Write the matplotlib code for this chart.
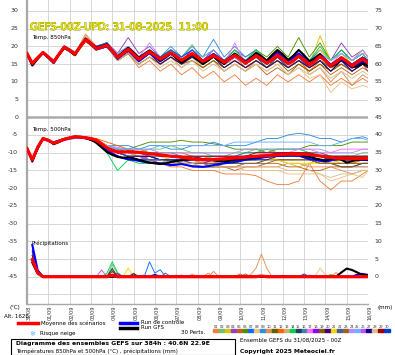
import numpy as np
import matplotlib
matplotlib.use('Agg')
import matplotlib.pyplot as plt
from matplotlib import patheffects
from matplotlib.patches import Rectangle
from matplotlib.lines import Line2D

W, H = 395, 355

# --- data -------------------------------------------------------------
dates = ['31/08', '01/09', '02/09', '03/09', '04/09', '05/09', '06/09', '07/09', '08/09',
         '09/09', '10/09', '11/09', '12/09', '13/09', '14/09', '15/09', '16/09']

hours6 = np.arange(0, 385, 6)                       # 6-hourly runs
member_hours = np.r_[0, np.arange(6, 384, 12), 384]  # members read at 06z / 18z
precip_hours = list(range(6, 385, 6))
PRECIP_BASE = -45

t850_mean = [18.0, 15.2, 16.8, 18.3, 17.0, 15.6, 17.8, 19.8, 19.0, 17.8, 20.0, 21.9,
             20.8, 19.4, 19.8, 20.3, 18.8, 16.9, 18.0, 19.2, 17.8, 16.4, 17.5, 18.5,
             17.5, 16.4, 17.3, 18.2, 17.2, 16.1, 17.0, 18.0, 17.0, 15.8, 16.6, 17.4,
             16.6, 15.5, 16.5, 17.5, 16.6, 15.3, 16.3, 17.4, 16.5, 15.3, 16.3, 17.6,
             16.5, 15.1, 16.0, 17.3, 16.2, 14.8, 15.8, 17.2, 16.0, 14.6, 15.5, 16.8,
             15.8, 14.5, 15.6, 16.5, 15.3]
t850_ctrl = [18.0, 14.8, 16.6, 18.4, 16.8, 15.3, 17.8, 20.0, 19.0, 17.6, 20.2, 22.0,
             20.6, 19.2, 19.6, 20.0, 18.5, 16.5, 17.8, 19.0, 17.3, 15.8, 17.0, 18.2,
             17.0, 15.8, 16.8, 18.0, 16.8, 15.6, 16.6, 17.8, 16.5, 15.3, 16.2, 17.3,
             16.4, 15.4, 16.5, 17.8, 16.8, 15.6, 16.7, 18.0, 17.0, 15.8, 17.0, 18.4,
             17.3, 15.9, 16.8, 18.0, 16.6, 15.0, 16.0, 17.4, 16.2, 14.8, 15.4, 16.2,
             15.2, 14.0, 14.6, 15.6, 14.8]
t850_gfs = [18.0, 14.6, 16.5, 18.2, 16.9, 15.4, 17.6, 19.6, 18.8, 17.5, 20.1, 22.2,
            21.0, 19.6, 20.0, 20.6, 19.0, 17.2, 18.4, 19.6, 18.3, 16.8, 17.8, 18.8,
            17.6, 16.0, 17.0, 18.0, 16.7, 15.4, 16.5, 17.6, 16.3, 15.0, 16.0, 17.2,
            16.1, 15.0, 16.6, 18.0, 16.8, 15.5, 16.8, 18.2, 17.2, 16.0, 17.6, 19.0,
            17.8, 16.2, 17.4, 19.0, 17.5, 15.8, 16.6, 17.8, 16.0, 14.4, 15.0, 16.5,
            15.4, 14.2, 14.3, 15.2, 14.6]

t500_mean = [-8.8, -12.0, -8.5, -6.0, -6.5, -7.3, -6.8, -6.2, -5.8, -5.5, -5.6, -5.8,
             -6.0, -6.5, -7.5, -8.6, -9.4, -9.8, -9.8, -9.7, -9.8, -9.9, -10.1, -10.3,
             -10.4, -10.6, -10.8, -11.0, -11.1, -11.3, -11.5, -11.7, -11.9, -12.0, -12.0, -11.9,
             -11.8, -11.7, -11.6, -11.5, -11.4, -11.3, -11.1, -11.0, -10.9, -10.8, -10.7, -10.6,
             -10.5, -10.4, -10.4, -10.5, -10.4, -10.5, -10.7, -10.9, -11.1, -11.3, -11.5, -11.6,
             -11.6, -11.7, -11.6, -11.6, -11.6]
t500_ctrl = [-8.8, -12.2, -8.4, -6.1, -6.6, -7.4, -6.9, -6.3, -5.9, -5.6, -5.5, -5.7,
             -6.2, -7.0, -8.2, -9.5, -10.4, -11.0, -11.5, -11.8, -12.0, -12.3, -12.6, -12.8,
             -12.9, -13.0, -13.2, -13.5, -13.4, -13.2, -13.5, -13.8, -13.9, -14.0, -13.8, -13.5,
             -13.2, -13.0, -12.8, -12.6, -12.3, -12.0, -11.8, -11.6, -11.4, -11.2, -11.0, -10.9,
             -10.8, -10.6, -10.5, -10.8, -11.3, -11.8, -12.0, -12.3, -12.5, -12.2, -11.8, -11.5,
             -11.4, -11.6, -11.9, -12.0, -12.1]
t500_gfs = [-8.8, -12.5, -8.6, -6.0, -6.4, -7.6, -7.0, -6.2, -5.8, -5.4, -5.6, -5.9,
            -6.3, -7.2, -8.5, -9.8, -10.6, -11.2, -11.4, -11.3, -11.6, -12.0, -12.4, -12.8,
            -13.0, -13.2, -13.0, -12.6, -12.3, -12.2, -12.0, -11.8, -11.6, -11.8, -12.0, -12.2,
            -12.4, -12.5, -12.3, -12.0, -11.8, -11.6, -11.5, -11.3, -11.0, -10.8, -10.6, -10.5,
            -10.4, -10.3, -10.4, -10.6, -10.9, -11.2, -11.6, -11.9, -12.2, -11.8, -11.3, -12.0,
            -12.8, -12.4, -12.0, -11.8, -11.9]

t850_members = [
    [18, 15, 18, 16, 20, 18, 23, 20, 20, 16, 18, 14, 16, 13, 15, 12, 14, 11, 13, 10, 12, 9, 11, 9, 12, 10, 12, 10, 12, 9, 11, 9, 11, 10],
    [18, 15, 18.5, 16, 20, 18, 22, 20, 21, 18, 20, 17, 19, 17, 19, 17, 20.5, 16, 18, 16, 18, 16, 18, 16, 19, 16, 18, 15, 18, 15, 17, 15, 17, 16],
    [18, 15.5, 18, 15.5, 19.5, 17.5, 21.5, 19, 20, 17, 19.5, 17, 19, 16, 18, 16, 19, 16, 18, 15, 17, 15, 18, 16, 19, 15, 18, 15, 23, 16, 18, 15, 17, 15],
    [18, 15, 18.5, 15.5, 20, 18, 22.5, 20, 21, 18, 22.5, 18, 20, 17, 19, 16, 18, 16, 18, 16, 19, 17, 19, 16, 18, 16, 19, 16, 19, 16, 21, 17, 19, 17],
    [18, 15, 18, 15.5, 19.5, 17.5, 22, 19, 20, 17, 19, 16, 18, 15, 17, 15, 17, 14, 16, 13, 15, 13, 15, 12, 14, 12, 15, 13, 15, 12, 14, 12, 14, 13],
    [18, 15.5, 18.5, 16, 20, 18, 22, 20, 21, 17, 19, 17, 19, 17, 19, 17, 19, 17, 19, 16, 19, 16, 19, 17, 20, 17, 22.5, 17, 21, 16, 19, 16, 18, 16],
    [18, 15, 18, 15.5, 20, 18, 22, 19.5, 20.5, 17, 19.5, 17, 19, 16, 19, 16, 18, 16, 18, 15, 17, 15, 18, 15, 17, 15, 17, 14, 17, 14, 16, 14, 16, 15],
    [18, 15, 18, 15.5, 20, 18, 23, 20, 21, 17, 19, 16, 18, 15, 17, 15, 17, 14, 16, 14, 16, 14, 15, 13, 15, 12, 14, 11, 12, 7, 10, 8, 9, 8.5],
    [18, 15, 18.5, 16, 20, 18.5, 22, 20, 21, 18, 20, 17, 19, 17, 20, 17, 20, 17, 22, 17, 20, 17, 19, 16, 19, 16, 19, 16, 19, 16, 19, 16, 18, 16],
    [18, 15, 18, 15.5, 20, 18, 23.5, 20, 20, 16, 18, 15, 17, 15, 17, 14, 16, 14, 16, 13, 15, 13, 16, 14, 16, 14, 17, 12, 14, 10, 13, 9, 12, 11],
    [18, 15.5, 18.5, 16, 20, 18, 22, 19.5, 20, 17, 19, 16, 18, 16, 18, 16, 18, 16, 17, 15, 17, 15, 17, 15, 17, 15, 17, 15, 18, 15, 17, 15, 17, 16],
    [18, 15, 18, 15.5, 19.5, 17.5, 21.5, 19, 20, 16.5, 19, 16, 18, 16, 18, 16, 18, 15, 17, 15, 17, 14, 16, 14, 17, 14, 16, 13, 16, 13, 15, 13, 15, 14],
    [18, 15, 18, 15.5, 19.5, 17.5, 21.5, 19, 20, 17, 19, 16, 18, 16, 18, 15, 17, 15, 17, 15, 16, 14, 16, 14, 16, 14, 17, 15, 17, 14, 16, 14, 16, 15],
    [18, 15.5, 18.5, 16, 20, 18, 22, 20, 21, 17, 19, 17, 19, 17, 19, 16, 18, 16, 18, 16, 19, 16, 19, 16, 18, 16, 19, 16, 20, 16, 19, 16, 18, 16],
    [18, 15, 18, 15.5, 19.5, 17.5, 22, 19, 20, 17, 19, 16, 18, 16, 18, 16, 17, 15, 17, 15, 17, 15, 17, 14, 17, 14, 16, 14, 16, 13, 16, 13, 15, 14],
    [18, 15, 18, 15.5, 20, 18, 22, 19.5, 20.5, 17, 19, 16, 18.5, 16, 18, 16, 18, 16, 18, 16, 18, 16, 18, 15, 18, 15, 17, 15, 17, 15, 17, 14, 16, 15],
    [18, 15, 18.5, 16, 20, 18, 22, 20, 21, 17, 20, 17, 19, 16, 18, 16, 18, 15, 17, 15, 21, 15, 18, 16, 18, 15, 17, 14, 17, 15, 18, 16, 19, 17],
    [18, 15, 18, 15.5, 20, 18, 22, 19, 21, 17, 20, 16, 19, 16, 18, 16, 19, 16, 19, 16, 18, 15, 17, 15, 17, 15, 18, 15, 18, 14, 17, 14, 16, 14],
    [18, 15, 18, 15.5, 19.5, 17.5, 21.5, 19, 20, 16, 18, 15, 17, 15, 17, 15, 16, 14, 16, 14, 16, 14, 16, 14, 16, 13, 15, 13, 15, 13, 15, 13, 15, 14],
    [18, 15, 18, 15.5, 19.5, 17.5, 22, 19, 20, 17, 19, 16, 18, 16, 18, 16, 18, 16, 17, 15, 17, 15, 17, 15, 17, 15, 17, 14, 16, 14, 16, 14, 16, 15],
    [18, 15, 18.5, 16, 20, 18, 22, 20, 21, 17, 19, 16, 18, 16, 18, 16, 18, 16, 17, 15, 17, 15, 17, 15, 18, 15, 18, 15, 19, 16, 18, 16, 19, 17],
    [18, 15, 18, 15.5, 20, 18, 22, 19.5, 20.5, 17, 19, 16, 18, 16, 18, 16, 18, 15, 17, 15, 17, 15, 17, 15, 17, 14, 16, 14, 16, 14, 16, 14, 15, 14],
    [18, 15, 18, 15.5, 19.5, 17.5, 21.5, 19, 20, 16, 18, 15, 17, 15, 17, 15, 17, 15, 17, 14, 16, 14, 16, 14, 16, 14, 16, 14, 16, 14, 15, 13, 15, 13],
    [18, 15, 18.5, 16, 20, 18, 22.5, 20, 21, 18, 20, 17, 21, 17, 19, 16, 18, 16, 18, 16, 18, 16, 18, 16, 18, 16, 18, 16, 18, 16, 18, 16, 19, 17],
    [18, 15, 18.5, 16, 20, 18, 22, 20, 21, 17, 20, 17, 19, 17, 19, 17, 19, 17, 19, 16, 18, 16, 18, 16, 18, 16, 18, 16, 18, 16, 18, 16, 18, 16],
    [18, 15, 18, 15.5, 20, 18, 22, 19, 20, 17, 19, 16, 18, 16, 18, 16, 18, 16, 18, 15, 17, 15, 17, 15, 17, 15, 17, 15, 17, 15, 17, 15, 17, 16],
    [18, 15, 18, 15.5, 19.5, 17.5, 22, 19, 20, 16.5, 18.5, 16, 18, 15, 17, 15, 17, 15, 17, 14, 16, 14, 16, 14, 16, 14, 16, 14, 16, 13, 16, 13, 15, 14],
    [18, 15, 18, 15.5, 19.5, 17.5, 22, 19, 20, 16, 18, 15, 17, 14, 16, 14, 16, 13, 15, 13, 15, 13, 15, 13, 15, 12, 14, 12, 14, 11, 13, 11, 13, 12],
    [18, 15, 18.5, 16, 20, 18, 22, 20, 20.5, 17, 19, 16, 18.5, 16, 18, 16, 18, 16, 18, 16, 18, 15, 17, 15, 17, 15, 17, 15, 17, 15, 17, 15, 17, 16],
    [18, 15.5, 18.5, 16, 20, 18, 22, 20, 21, 17, 19, 17, 19, 17, 19, 17, 19, 16, 18, 16, 18, 16, 18, 16, 18, 16, 18, 16, 18, 15, 17, 15, 17, 16],
]

t500_members = [
    [-9, -12, -6, -7, -6, -5.5, -6, -6.5, -9, -10, -11, -12, -13, -13, -14, -14, -15, -15, -15, -16, -16, -16, -16.5, -18, -19, -19, -18, -13, -18, -20.5, -18, -18, -16, -15],
    [-9, -12, -6, -7.5, -6, -5.5, -6, -7, -9, -10, -10, -10, -9, -9, -8, -9, -10, -10, -11, -11, -10, -10, -9, -9, -10, -10, -11, -11, -12, -12, -11, -11, -10, -10],
    [-9, -12, -6, -7, -6.5, -5.5, -6, -6.5, -8, -9, -10, -11, -11, -12, -12, -13, -13, -14, -13, -13, -12, -12, -11, -11, -12, -13, -14, -13, -12, -12, -13, -13, -12, -12],
    [-9, -12.5, -6, -7.5, -6.5, -6, -6, -7, -9, -11, -12, -12, -11, -12, -13, -12, -12, -13, -13, -12, -12, -12, -11, -11, -11, -10, -10, -11, -11, -12, -12, -11, -11, -11],
    [-8.5, -11.5, -6, -7, -6, -5.5, -5.5, -6, -8, -9, -10, -11, -12, -12, -13, -13, -14, -14, -14, -14, -15, -14, -14, -13, -13, -14, -14, -15, -15, -14, -14, -14, -13, -13],
    [-9, -12, -6, -7, -6, -5.5, -5.5, -6.5, -8, -9, -9, -8, -7, -7, -7, -6.5, -7, -7, -7.5, -8, -9, -9, -9, -10, -9, -9, -9, -8, -8, -8, -8, -7, -7, -7],
    [-9, -12, -6, -7.5, -6, -5.5, -6, -7, -9, -10, -11, -12, -12, -13, -13, -12, -13, -13, -12, -12, -12, -11, -11, -11, -10, -10, -10, -11, -11, -12, -12, -12, -11, -11],
    [-9, -12, -6, -7, -6, -5.5, -6, -6.5, -8.5, -10, -10, -11, -11, -11, -12, -12, -13, -13, -14, -14, -14, -15, -15, -15, -15, -16, -16, -16, -16, -18, -17, -16, -17, -15],
    [-9, -12, -6, -7, -6, -5.5, -6, -6.5, -8, -8, -8, -9, -8, -8, -9, -9, -8, -8, -7, -8, -8, -8, -7, -6, -6, -5, -4.5, -5, -6, -6, -7, -6, -5.5, -6],
    [-9, -12, -6, -7, -6, -5.5, -6, -6.5, -8.5, -10, -11, -11, -12, -12, -13, -13, -13, -13, -13, -14, -14, -14, -14, -14, -14, -13, -13, -14, -14, -14, -15, -16, -15, -15],
    [-9, -12, -6, -7, -6, -5.5, -6, -6.5, -8.5, -9.5, -10, -10, -10, -11, -11, -11, -12, -12, -12, -12, -12, -11, -11, -11, -11, -10, -10, -10, -11, -11, -11, -11, -12, -12],
    [-9, -12, -6, -7, -6.5, -5.5, -6, -6, -7, -8, -9, -9, -10, -10, -10, -10, -11, -11, -12, -12, -12, -12, -11, -11, -10, -10, -10, -11, -12, -12, -12, -13, -12, -12],
    [-9, -12, -6, -7, -6, -5.5, -6, -7, -9, -10, -10, -11, -11, -11, -12, -12, -12, -13, -13, -12, -12, -12, -12, -11, -11, -11, -11, -12, -12, -13, -13, -13, -13, -13],
    [-9, -12, -6, -7, -6, -5.5, -6, -7, -10, -15, -12, -13, -13, -13, -12, -12, -12, -12, -11, -11, -11, -10, -10, -9, -9, -9, -9, -10, -10, -11, -11, -11, -11, -11],
    [-9, -12, -6, -7, -6, -5.5, -6, -7, -9, -11, -12, -12, -13, -13, -13, -13, -14, -14, -14, -13, -13, -13, -13, -12, -12, -12, -12, -12, -13, -13, -14, -14, -13, -13],
    [-9, -12, -6, -7, -6, -5.5, -6, -6.5, -8, -9, -9, -10, -10, -10, -10, -11, -11, -11, -11, -11, -11, -10, -10, -10, -10, -10, -10, -10, -10, -11, -11, -11, -11, -11],
    [-9, -12, -6, -7, -6, -5.5, -6, -6.5, -8, -9, -10, -10, -11, -11, -11, -11, -11, -12, -12, -12, -11, -11, -11, -10, -10, -10, -9, -9, -10, -10, -9, -9, -9, -9],
    [-9, -12, -6, -7.5, -6, -5.5, -6, -7, -9, -11, -12, -12, -12, -12, -12, -12, -13, -13, -12, -12, -11, -11, -11, -11, -10, -10, -11, -11, -12, -12, -12, -12, -12, -12],
    [-9, -12, -6, -7, -6, -5.5, -6, -6.5, -8.5, -10, -11, -11, -12, -12, -12, -13, -13, -13, -13, -13, -13, -12, -12, -12, -12, -12, -12, -12, -13, -13, -13, -13, -13, -13],
    [-9, -12, -6, -7, -6, -5.5, -6, -7, -9, -10, -11, -11, -11, -12, -12, -12, -12, -12, -12, -12, -12, -12, -11, -11, -11, -11, -11, -11, -11, -12, -12, -12, -12, -12],
    [-9, -12, -6, -7, -6, -5.5, -6, -6.5, -8, -9, -10, -10, -11, -11, -12, -12, -12, -12, -12, -12, -12, -12, -12, -12, -12, -13, -13, -13, -13, -13, -12, -12, -12, -11],
    [-9, -12, -6, -7, -6, -5.5, -6, -6.5, -8, -9, -10, -10, -11, -11, -11, -11, -11, -12, -12, -12, -12, -11, -11, -11, -11, -11, -11, -11, -11, -11, -12, -12, -12, -12],
    [-9, -12, -6, -7, -6, -5.5, -6, -6.5, -8.5, -10, -11, -12, -12, -13, -13, -13, -13, -13, -14, -14, -14, -13, -13, -13, -12, -12, -12, -12, -13, -13, -14, -14, -14, -14],
    [-9, -12, -6, -7, -6, -5.5, -6, -6.5, -8, -8.5, -9, -9, -9, -10, -10, -10, -10, -10, -10, -10, -10, -9, -9, -9, -9, -9, -9, -9, -9, -10, -10, -10, -9, -9],
    [-9, -12, -6, -7, -6, -5.5, -6, -6.5, -8, -9, -9, -9, -9, -8, -8, -8, -8, -8, -8, -8, -7, -7, -7, -7, -7, -7, -7, -7, -8, -8, -7, -6, -6, -6.5],
    [-9, -12, -6, -7, -6, -5.5, -6, -7, -9, -10, -11, -11, -12, -12, -12, -12, -12, -11, -11, -11, -11, -11, -11, -11, -11, -11, -11, -11, -11, -11, -12, -12, -12, -12],
    [-9, -12, -6, -7, -6, -5.5, -6, -6.5, -8.5, -10, -11, -11, -11, -12, -12, -12, -12, -12, -12, -12, -12, -12, -12, -12, -11, -11, -11, -11, -11, -12, -12, -12, -12, -12],
    [-9, -12, -6, -7, -6, -5.5, -6, -6.5, -8, -10, -11, -12, -12, -12, -13, -13, -13, -14, -14, -14, -14, -14, -14, -14, -14, -15, -15, -15, -16, -17, -16, -16, -15, -15],
    [-9, -12, -6, -7, -6, -5.5, -6, -6.5, -8.5, -9.5, -10, -10, -10, -11, -11, -11, -11, -11, -11, -11, -11, -11, -10, -10, -10, -10, -10, -10, -11, -11, -11, -11, -11, -11],
    [-9, -12, -6, -7, -6, -5.5, -6, -7, -9, -10, -11, -12, -12, -12, -12, -12, -12, -12, -12, -12, -12, -12, -12, -11, -11, -11, -11, -11, -11, -12, -12, -12, -12, -12],
]

# precipitation (mm per 6h), only non-zero steps listed
precip_mean = {6: 4.8, 12: 1.1, 96: 0.4, 264: 0.2}
precip_ctrl = {6: 9.0, 12: 1.8, 96: 0.5, 144: 0.5, 372: 0.6, 378: 0.8, 384: 0.5}
precip_gfs = {6: 4.0, 12: 1.0, 354: 1.2, 360: 2.3, 366: 1.9, 372: 1.2, 378: 0.5, 384: 0.4}
precip_members = [
    {6: 6.0, 12: 1.2, 204: 1.0},
    {6: 5.0, 12: 1.0, 96: 3.5, 102: 0.8},
    {6: 7.0, 12: 1.5, 90: 0.6},
    {6: 4.0, 12: 0.8},
    {6: 5.0, 12: 1.0, 240: 0.8},
    {6: 6.0, 12: 1.2, 96: 2.0, 342: 0.5},
    {6: 8.5, 12: 1.8, 138: 4.2, 144: 1.0, 150: 2.0},
    {6: 3.5, 12: 0.6, 330: 2.4, 336: 0.6},
    {6: 5.0, 12: 1.0, 360: 0.3},
    {6: 4.0, 12: 0.8, 210: 1.5, 252: 0.6, 258: 2.5, 264: 6.4, 270: 2.4, 348: 1.2},
    {6: 6.0, 12: 1.2, 102: 1.0},
    {6: 5.0, 12: 1.0, 186: 0.6},
    {6: 4.5, 12: 0.8, 168: 0.5},
    {6: 6.0, 12: 1.3, 90: 1.0, 96: 4.2, 102: 1.2, 342: 0.6},
    {6: 7.0, 12: 1.5, 96: 2.4},
    {6: 5.5, 12: 1.0},
    {6: 4.0, 12: 0.8, 318: 0.5},
    {6: 6.0, 12: 1.2, 102: 0.8},
    {6: 5.0, 12: 1.0, 120: 1.0},
    {6: 7.5, 12: 1.6},
    {6: 4.0, 12: 0.8, 114: 2.4},
    {6: 6.0, 12: 1.2, 156: 1.0},
    {6: 5.0, 12: 1.0, 246: 0.8},
    {6: 3.5, 12: 0.6, 174: 0.5},
    {6: 5.0, 12: 1.0, 132: 0.6},
    {6: 6.5, 12: 1.4, 84: 1.9},
    {6: 5.0, 12: 1.0, 120: 0.8},
    {6: 4.0, 12: 0.8, 186: 0.8},
    {6: 6.0, 12: 1.2, 96: 1.5, 288: 0.4},
    {6: 7.0, 12: 1.5, 312: 0.8},
]

member_colors = ['#f08040', '#70c070', '#e0c000', '#9040c0', '#c06020', '#509000',
                 '#0070ff', '#f0c080', '#3090e0', '#e09050', '#606000', '#ff6000',
                 '#c8b070', '#00d050', '#204060', '#4080a0', '#ff70ff', '#9000ff',
                 '#806000', '#400080', '#f0d800', '#4060a0', '#a06020', '#b090ff',
                 '#70b0ff', '#c050ff', '#200080', '#d8c090', '#a00000', '#0040c0']


def precip_series(events):
    vals = np.zeros(len(precip_hours))
    for h, v in events.items():
        vals[precip_hours.index(h)] = v
    return PRECIP_BASE + vals


def px(x, y):
    return x / W, 1 - y / H


# --- figure -----------------------------------------------------------
fig = plt.figure(figsize=(W / 100, H / 100), dpi=100)
fig.patch.set_facecolor('white')
ax = fig.add_axes([27 / W, 51 / H, 341 / W, 304 / H])
ax.set_xlim(0, 384)
ax.set_ylim(-52.7, 33.1)
ax.set_xticks([])
ax.set_yticks([])
for s in ['top', 'right']:
    ax.spines[s].set_visible(False)
ax.spines['left'].set_color('#a8a8a8')
ax.spines['left'].set_linewidth(1.6)
ax.spines['bottom'].set_color('#a8a8a8')
ax.spines['bottom'].set_linewidth(1.0)

for v in range(-50, 31, 5):
    ax.axhline(v, color='#d6d6d6', lw=0.7, zorder=0)
for d in range(1, 17):
    ax.axvline(d * 24, color='#d6d6d6', lw=0.7, zorder=0)
ax.axhline(0, color='#ababab', lw=1.8, zorder=1)

# ensemble members
for i in range(30):
    c = member_colors[i]
    ax.plot(member_hours, t850_members[i], color=c, lw=0.65, zorder=2)
    ax.plot(member_hours, t500_members[i], color=c, lw=0.65, zorder=2)
    ax.plot(precip_hours, precip_series(precip_members[i]), color=c, lw=0.65, zorder=2)

ax.plot(hours6, t850_ctrl, color='#0000ff', lw=1.5, zorder=4)
ax.plot(hours6, t500_ctrl, color='#0000ff', lw=1.5, zorder=4)
ax.plot(precip_hours, precip_series(precip_ctrl), color='#0000ff', lw=1.5, zorder=4)
ax.plot(hours6, t850_gfs, color='black', lw=1.5, zorder=5)
ax.plot(hours6, t500_gfs, color='black', lw=1.5, zorder=5)
ax.plot(precip_hours, precip_series(precip_gfs), color='black', lw=1.5, zorder=5)
ax.plot(hours6, t850_mean, color='#ff0000', lw=2.3, zorder=6)
ax.plot(hours6, t500_mean, color='#ff0000', lw=2.3, zorder=6)
ax.plot(precip_hours, precip_series(precip_mean), color='#ff0000', lw=2.3, zorder=6)

# y labels, left in degC, right shifted by 45
ytr = ax.get_yaxis_transform()
for v in range(-45, 31, 5):
    ax.text(-0.026, v, str(v), transform=ytr, ha='right', va='center', fontsize=4.5, color='#333333')
    ax.text(1.02, v, str(v + 45), transform=ytr, ha='left', va='center', fontsize=4.5, color='#333333')

# date labels
xtr = ax.get_xaxis_transform()
for d, lab in enumerate(dates):
    ax.text(d * 24 + 2, -0.006, lab, transform=xtr, rotation=90, ha='center', va='top',
            fontsize=3.6, color='#333333')

# section titles
ax.text(*px(32, 38), 'Temp. 850hPa', transform=fig.transFigure, fontsize=4, va='center')
ax.text(*px(32, 129), 'Temp. 500hPa', transform=fig.transFigure, fontsize=4, va='center')
ax.text(*px(32, 243), 'Précipitations', transform=fig.transFigure, fontsize=4, va='center')

fig.text(*px(30, 27), 'GEFS-00Z-UPD: 31-08-2025  11:00', fontsize=7.4, color='#f0f000',
         va='center', path_effects=[patheffects.withStroke(linewidth=0.7, foreground='#9a9a00')])

# axis units
fig.text(*px(9, 307), '(°C)', fontsize=4, va='center')
fig.text(*px(4, 316), 'Alt. 1626', fontsize=4, va='center')
fig.text(*px(378, 307), '(mm)', fontsize=4, va='center')

# legend
def leg_line(x0, x1, y, color):
    fig.add_artist(Line2D([x0 / W, x1 / W], [1 - y / H, 1 - y / H], color=color, lw=2.5))

leg_line(18, 38, 323, '#ff0000')
fig.text(*px(41, 323), 'Moyenne des scénarios', fontsize=4, va='center')
leg_line(120, 137, 322.5, '#0000ff')
fig.text(*px(141, 322.5), 'Run de contrôle', fontsize=4, va='center')
leg_line(120, 137, 327.5, 'black')
fig.text(*px(141, 327.5), 'Run GFS', fontsize=4, va='center')
fig.text(*px(32, 334), '❄', fontsize=5, color='#60b0ff', ha='center', va='center')
fig.text(*px(40, 334), 'Risque neige', fontsize=4, va='center')
fig.text(*px(181, 332), '30 Perts.', fontsize=4, va='center')

for i, c in enumerate(member_colors):
    x0 = 213 + i * 5.9
    fig.add_artist(Rectangle((x0 / W, 1 - 332 / H), 5.5 / W, 3.5 / H, color=c,
                             transform=fig.transFigure))
    fig.text(*px(x0 + 2.8, 326.5), f'{i + 1:02d}', fontsize=2.6, ha='center', va='center',
             color='#333333')

fig.add_artist(Rectangle((11 / W, 0), 224 / W, 16 / H, fill=False, ec='black', lw=0.8,
                         transform=fig.transFigure))
fig.text(*px(16, 344), 'Diagramme des ensembles GEFS sur 384h : 40.6N 22.9E', fontsize=4.4,
         weight='bold', va='center')
fig.text(*px(16, 351), 'Températures 850hPa et 500hPa (°C) , précipitations (mm)', fontsize=4,
         va='center')
fig.text(*px(240, 340.5), 'Ensemble GEFS du 31/08/2025 - 00Z', fontsize=4, va='center')
fig.text(*px(240, 351), 'Copyright 2025 Meteociel.fr', fontsize=4.3, weight='bold', va='center')

fig.savefig('out.png', dpi=100, facecolor='white')
